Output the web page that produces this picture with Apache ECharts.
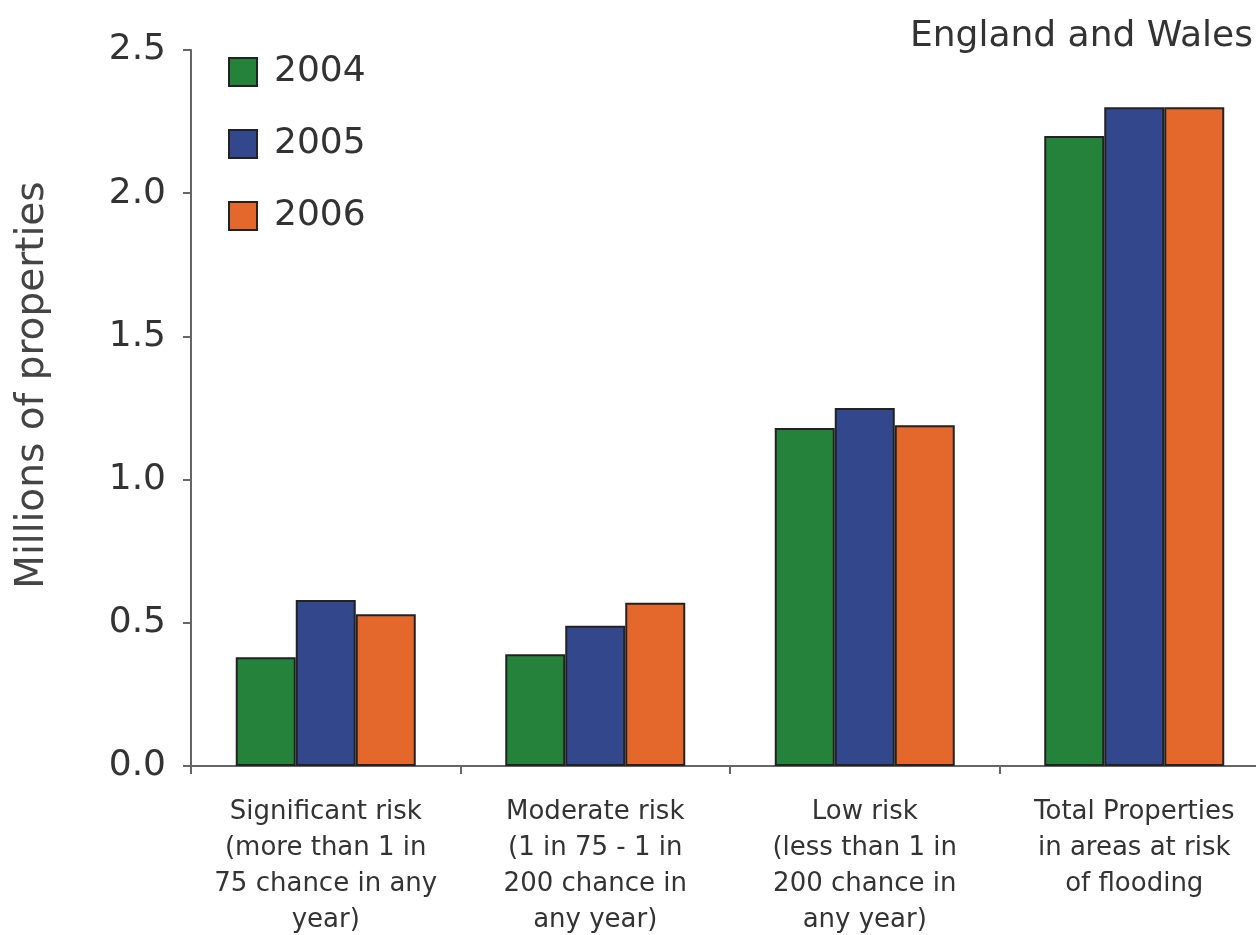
<!DOCTYPE html>
<html>
<head>
<meta charset="utf-8">
<script src="https://cdn.jsdelivr.net/npm/echarts@6/dist/echarts.min.js"></script>
<style>
html,body{margin:0;padding:0;background:#fff;overflow:hidden;width:1256px;height:935px;}
#c{width:1290px;height:935px;}
</style>
</head>
<body>
<div id="c"></div>
<script>
var categories = [
  'Significant risk\n(more than 1 in\n75 chance in any\nyear)',
  'Moderate risk\n(1 in 75 - 1 in\n200 chance in\nany year)',
  'Low risk\n(less than 1 in\n200 chance in\nany year)',
  'Total Properties\nin areas at risk\nof flooding'
];
var years = ['2004', '2005', '2006'];
var values2004 = [0.38, 0.39, 1.18, 2.20];
var values2005 = [0.58, 0.49, 1.25, 2.30];
var values2006 = [0.53, 0.57, 1.19, 2.30];
var colors = ['#25823a', '#33478c', '#e4672b'];

var chart = echarts.init(document.getElementById('c'));
var font = 'DejaVu Sans, Verdana, sans-serif';
function mk(name, data, color) {
  return {
    name: name, type: 'bar', data: data,
    barWidth: 60, barGap: '0%',
    itemStyle: {color: color, borderColor: '#222', borderWidth: 2},
    emphasis: {disabled: true}
  };
}
chart.setOption({
  animation: false,
  backgroundColor: '#fff',
  title: {
    text: 'England and Wales', left: 905, top: 14,
    textStyle: {fontFamily: font, fontSize: 36, fontWeight: 'normal', color: '#333'}
  },
  legend: {
    orient: 'vertical', left: 223, top: 49,
    itemWidth: 28, itemHeight: 28, itemGap: 36,
    icon: 'rect',
    data: years,
    textStyle: {fontFamily: font, fontSize: 36, color: '#333', lineHeight: 36, padding: [0, 0, 0, 12]}
  },
  graphic: [{
    type: 'text', x: 33, y: 385, rotation: Math.PI / 2,
    style: {text: 'Millions of properties', fontFamily: font, fontSize: 39, fill: '#444',
      textAlign: 'center', textVerticalAlign: 'middle'}
  }],
  grid: {left: 191, top: 50, bottom: 169, right: 21, outerBoundsMode: 'none', containLabel: false},
  xAxis: {
    type: 'category', data: categories,
    axisLine: {lineStyle: {color: '#666', width: 2}},
    axisTick: {show: true, length: 8, lineStyle: {color: '#666', width: 2}},
    axisLabel: {fontFamily: font, fontSize: 26, color: '#333', lineHeight: 36, margin: 28, interval: 0}
  },
  yAxis: {
    type: 'value', min: 0, max: 2.5, interval: 0.5,
    axisLine: {show: true, lineStyle: {color: '#666', width: 2}},
    axisTick: {show: true, length: 8, lineStyle: {color: '#666', width: 2}},
    splitLine: {show: false},
    axisLabel: {fontFamily: font, fontSize: 36, color: '#333', margin: 25,
      formatter: function (v) { return v.toFixed(1); }}
  },
  series: [
    mk(years[0], values2004, colors[0]),
    mk(years[1], values2005, colors[1]),
    mk(years[2], values2006, colors[2])
  ]
});
</script>
</body>
</html>
